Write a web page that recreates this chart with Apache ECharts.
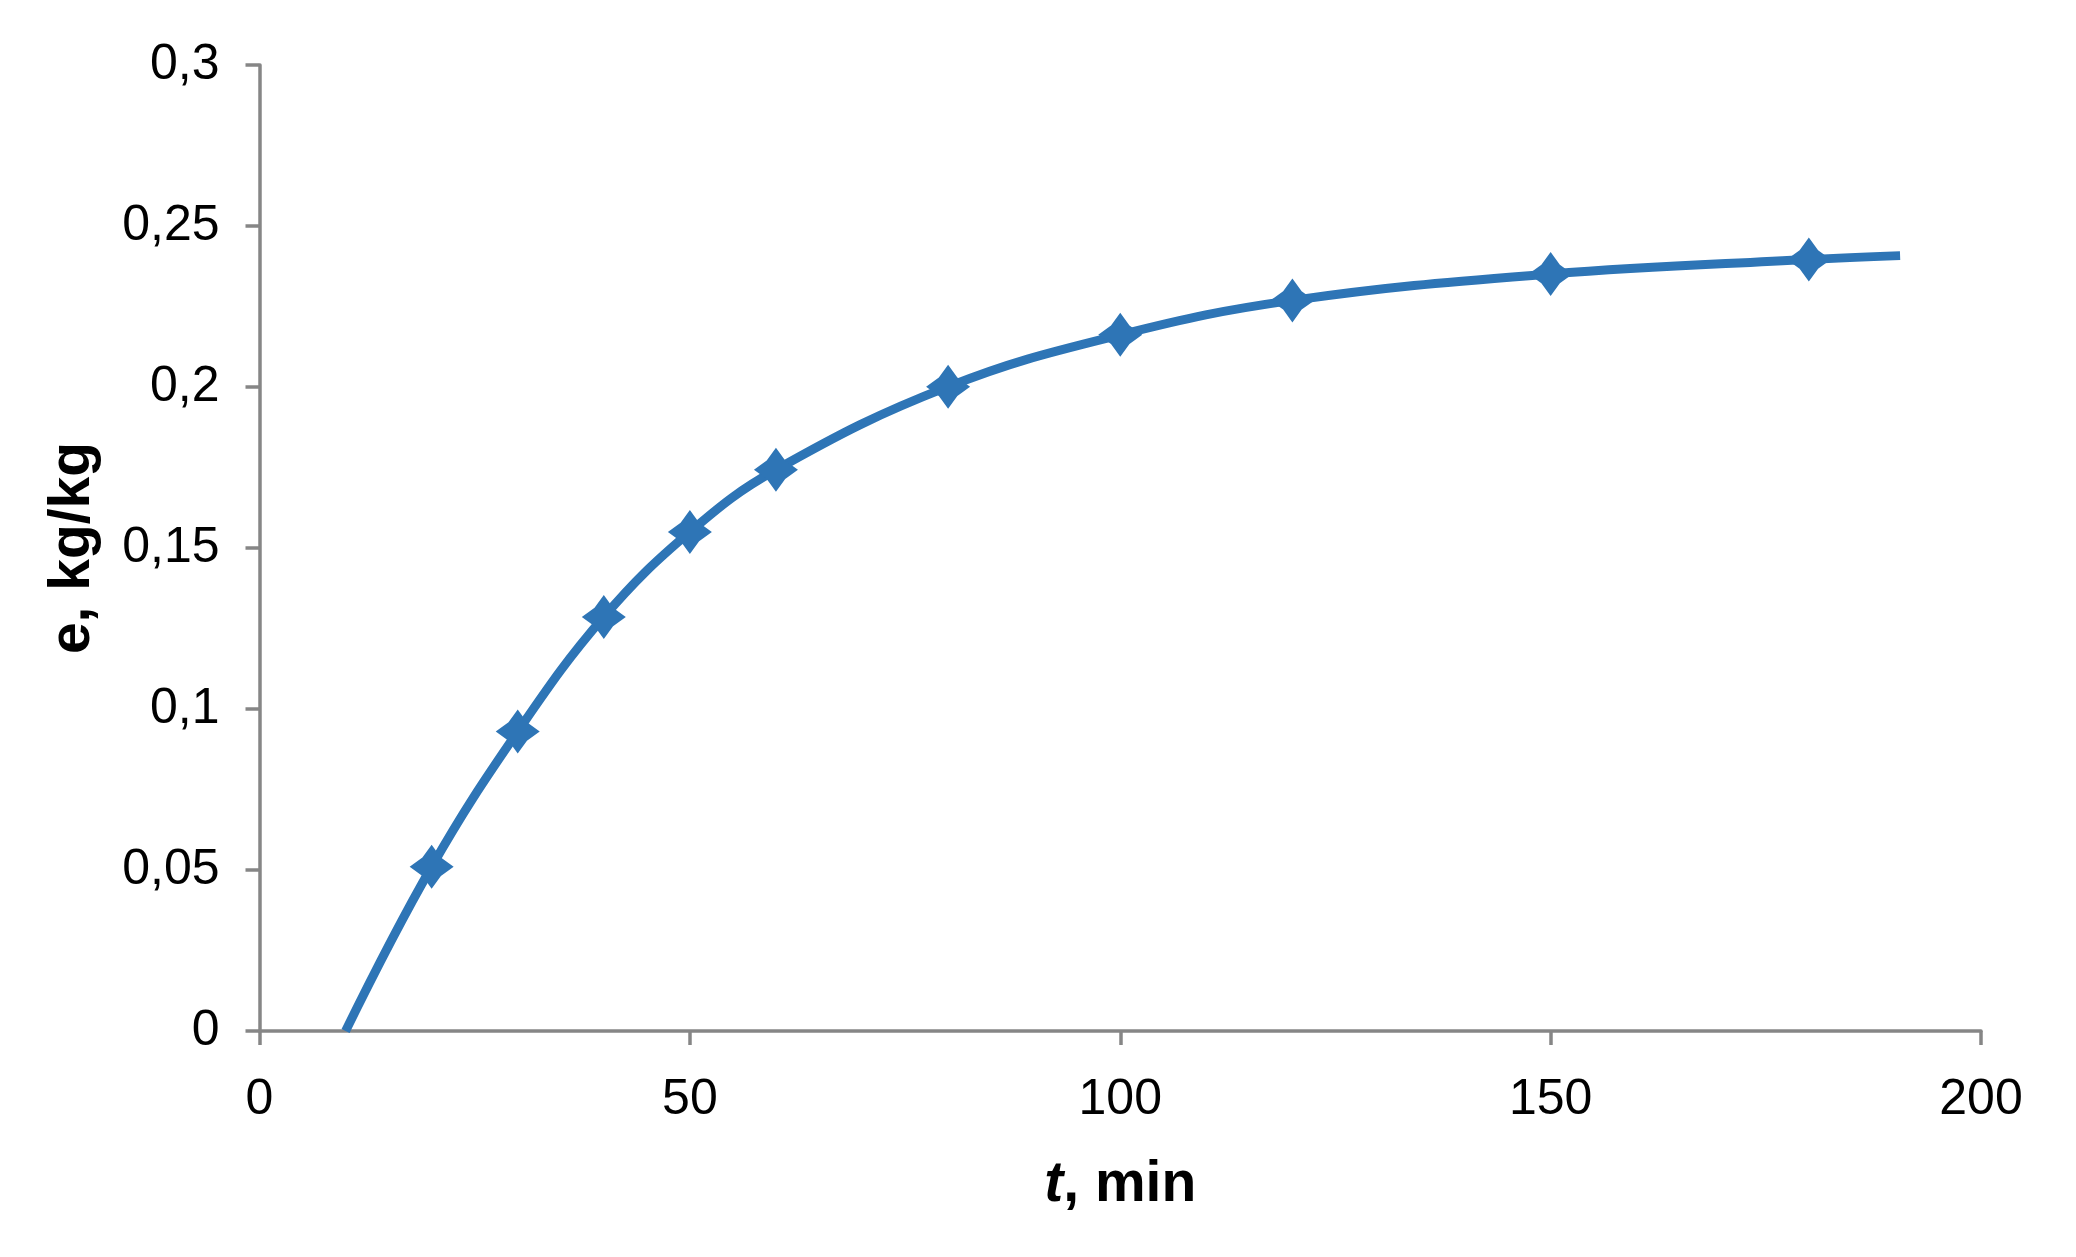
<!DOCTYPE html>
<html>
<head>
<meta charset="utf-8">
<script src="https://cdn.jsdelivr.net/npm/echarts@6/dist/echarts.min.js"></script>
<style>
html,body{margin:0;padding:0;background:#fff;}
#chart{width:2076px;height:1257px;}
</style>
</head>
<body>
<div id="chart"></div>
<script>
// measured points
const tMeasured = [20, 30, 40, 50, 60, 80, 100, 120, 150, 180];
const eMeasured = [0.051, 0.093, 0.1286, 0.155, 0.1743, 0.2001, 0.2162, 0.2269, 0.2351, 0.2396];
// fitted curve
const tCurve = [10, 20, 30, 40, 50, 60, 80, 100, 120, 150, 180, 190.6];
const eCurve = [0, 0.051, 0.093, 0.1286, 0.155, 0.1743, 0.2001, 0.2162, 0.2269, 0.2351, 0.2396, 0.2408];
// axis ticks
const xTicks = [0, 50, 100, 150, 200];
const yTicks = [0, 0.05, 0.1, 0.15, 0.2, 0.25, 0.3];

const blue = '#2E75B6';
const axisGray = '#868686';
const fmt = v => (Math.round(v * 1000) / 1000).toString().replace('.', ',');
const star = 'path://M0,-100 L42,-42 L100,0 L42,42 L0,100 L-42,42 L-100,0 L-42,-42 Z';

const chart = echarts.init(document.getElementById('chart'), null, {renderer: 'canvas'});
chart.setOption({
  backgroundColor: '#ffffff',
  animation: false,
  grid: {left: 259.5, right: 95, top: 65, bottom: 226, containLabel: false},
  xAxis: {
    type: 'value',
    min: xTicks[0], max: xTicks[xTicks.length - 1], interval: 50,
    axisLine: {show: true, lineStyle: {color: axisGray, width: 3.5}},
    axisTick: {show: true, inside: false, length: 14, lineStyle: {color: axisGray, width: 3.5}},
    splitLine: {show: false},
    axisLabel: {color: '#000', fontFamily: 'Liberation Sans, Arial', fontSize: 50, margin: 44, formatter: fmt},
    name: '{i|t}{b|, min}',
    nameLocation: 'middle',
    nameGap: 126,
    nameTextStyle: {
      rich: {
        i: {fontFamily: 'Liberation Sans, Arial', fontSize: 57, fontWeight: 'bold', fontStyle: 'italic', color: '#000'},
        b: {fontFamily: 'Liberation Sans, Arial', fontSize: 57, fontWeight: 'bold', color: '#000'}
      }
    }
  },
  yAxis: {
    type: 'value',
    min: yTicks[0], max: yTicks[yTicks.length - 1], interval: 0.05,
    axisLine: {show: true, lineStyle: {color: axisGray, width: 3.5}},
    axisTick: {show: true, inside: false, length: 14, lineStyle: {color: axisGray, width: 3.5}},
    splitLine: {show: false},
    axisLabel: {color: '#000', fontFamily: 'Liberation Sans, Arial', fontSize: 50, margin: 40, formatter: fmt},
    name: 'e, kg/kg',
    nameLocation: 'middle',
    nameGap: 158,
    nameTextStyle: {fontFamily: 'Liberation Sans, Arial', fontSize: 57, fontWeight: 'bold', color: '#000'}
  },
  series: [
    {
      name: 'curve',
      type: 'line',
      data: tCurve.map((t, i) => [t, eCurve[i]]),
      smooth: 0.4,
      showSymbol: false,
      symbol: 'none',
      lineStyle: {color: blue, width: 9},
      z: 2
    },
    {
      name: 'measured',
      type: 'scatter',
      data: tMeasured.map((t, i) => [t, eMeasured[i]]),
      symbol: star,
      symbolSize: 44,
      itemStyle: {color: blue, opacity: 1},
      z: 3
    }
  ]
});
</script>
</body>
</html>
